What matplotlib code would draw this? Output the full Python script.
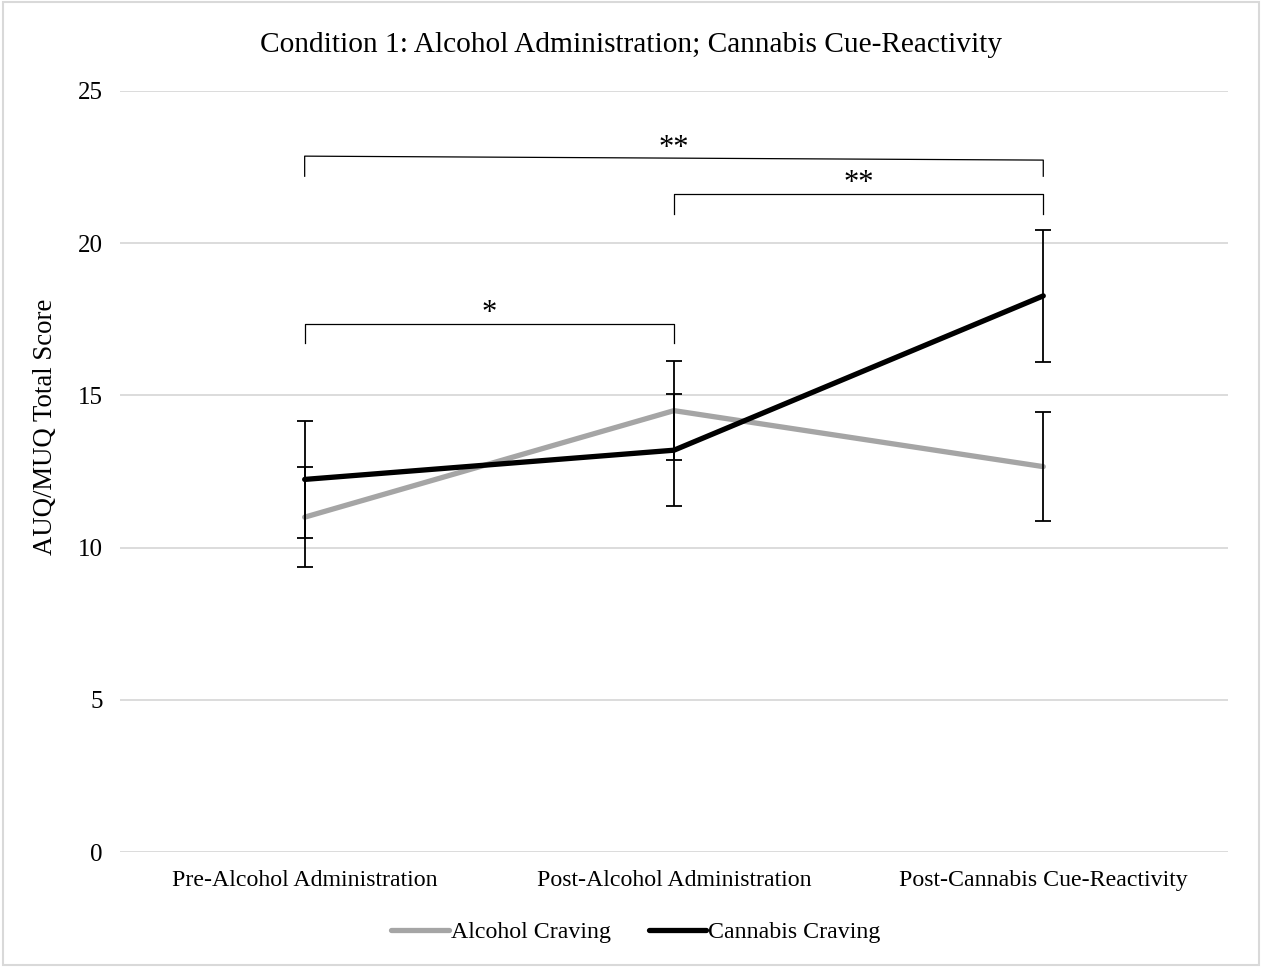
import matplotlib.pyplot as plt
from matplotlib.patches import Rectangle
import numpy as np

plt.rcParams["font.family"] = ["Liberation Serif", "DejaVu Serif"]

# Data
stages = ["Pre-Alcohol Administration", "Post-Alcohol Administration", "Post-Cannabis Cue-Reactivity"]
alcohol_mean = [11.0, 14.5, 12.66]
alcohol_err = [1.64, 1.63, 1.79]
cannabis_mean = [12.24, 13.2, 18.27]
cannabis_err = [1.93, 1.83, 2.16]

# significance brackets: (from, to, y top left, y top right, y tick end, label)
brackets = [
    (0, 2, 22.86, 22.73, 22.2, "**"),
    (1, 2, 21.62, 21.62, 20.96, "**"),
    (0, 1, 17.35, 17.35, 16.72, "*"),
]

gray = "#A5A5A5"
grid_col = "#D9D9D9"

fig = plt.figure(figsize=(12.62, 9.67), dpi=100)
ax = fig.add_axes([0.0951, 0.1189, 0.8779, 0.7870])

x = np.arange(len(stages))

ax.plot(x, alcohol_mean, color=gray, lw=3.8, solid_capstyle="round", label="Alcohol Craving", zorder=3)
ax.plot(x, cannabis_mean, color="black", lw=3.8, solid_capstyle="round", label="Cannabis Craving", zorder=4)
ax.errorbar(x, alcohol_mean, yerr=alcohol_err, fmt="none", ecolor="black",
            elinewidth=1.3, capsize=5.5, capthick=1.3, zorder=5)
ax.errorbar(x, cannabis_mean, yerr=cannabis_err, fmt="none", ecolor="black",
            elinewidth=1.3, capsize=5.5, capthick=1.3, zorder=5)

for x0, x1, yl, yr, yt, lab in brackets:
    ax.plot([x0, x0, x1, x1], [yt, yl, yr, yt], color="black", lw=0.9, zorder=2)
    ax.text((x0 + x1) / 2, (yl + yr) / 2 - 0.15, lab, ha="center", va="bottom", fontsize=22)

ax.set_xlim(-0.5, 2.5)
ax.set_ylim(0, 25)
ax.set_yticks(range(0, 26, 5))
ax.set_xticks(x)
ax.set_xticklabels(stages)
ax.yaxis.grid(True, color=grid_col, lw=1.3)
ax.set_axisbelow(True)
for s in ax.spines.values():
    s.set_visible(False)
ax.tick_params(axis="both", length=0, colors="black")
ax.tick_params(axis="x", pad=13, labelsize=17.2)
ax.tick_params(axis="y", pad=12.5, labelsize=18)

fig.text(46 / 1262, 1 - 427 / 967, "AUQ/MUQ Total Score", rotation=90,
         ha="center", va="center", fontsize=19.3)
fig.text(0.5, 1 - 45 / 967, "Condition 1: Alcohol Administration; Cannabis Cue-Reactivity",
         ha="center", va="center", fontsize=21.2)

fig.legend(loc="center", bbox_to_anchor=(636 / 1262, 1 - 932 / 967), ncol=2, frameon=False,
           fontsize=17.2, handlelength=2.4, handletextpad=0.08, columnspacing=1.6)

fig.patches.append(Rectangle((0.002, 0.002), 0.996, 0.996, transform=fig.transFigure,
                             fill=False, edgecolor=grid_col, lw=1.5))

fig.savefig("out.png", dpi=100)
